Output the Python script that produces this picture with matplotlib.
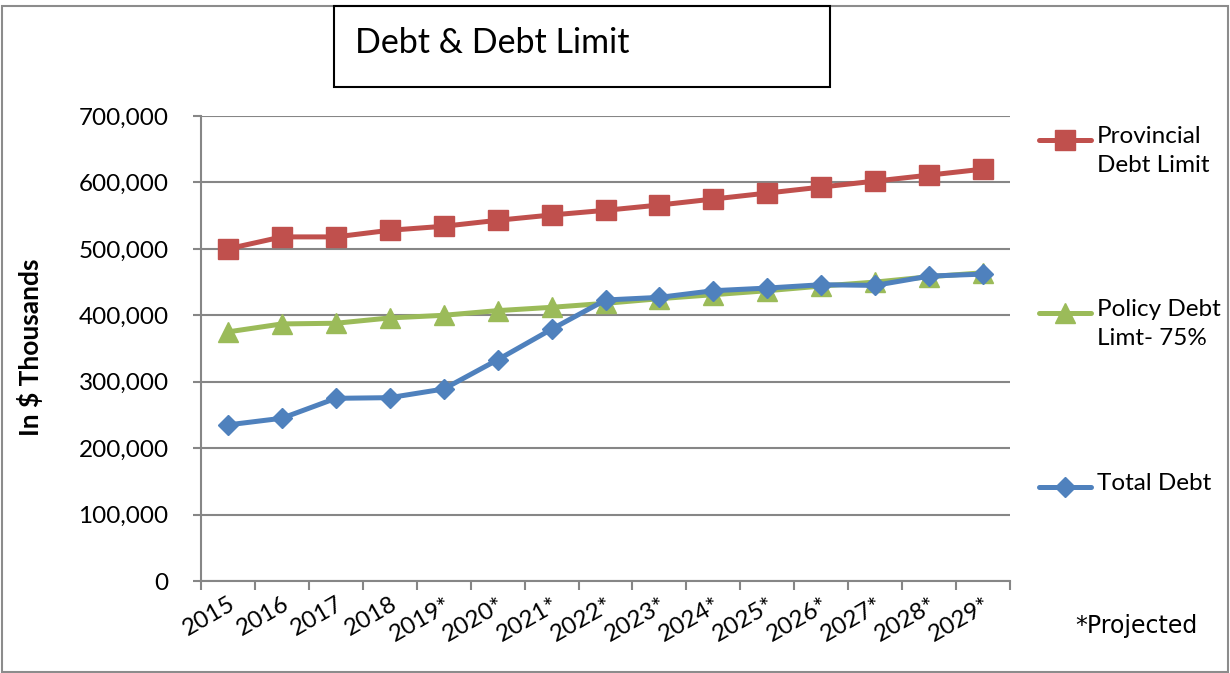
import matplotlib
matplotlib.use("Agg")
import matplotlib.pyplot as plt
from matplotlib.lines import Line2D
from matplotlib.patches import Rectangle
from matplotlib.ticker import FuncFormatter, MultipleLocator

years = ["2015", "2016", "2017", "2018", "2019*", "2020*", "2021*", "2022*",
         "2023*", "2024*", "2025*", "2026*", "2027*", "2028*", "2029*"]
provincial_limit = [500000, 518000, 518000, 528000, 534000, 543000, 551000, 558000,
                    566000, 575000, 584000, 593000, 602000, 611000, 620000]
policy_limit = [375000, 387000, 388000, 396000, 400000, 407000, 412000, 418000,
                425000, 431000, 437000, 444000, 450000, 458000, 464000]
total_debt = [235000, 245000, 275000, 276000, 289000, 333000, 379000, 423000,
              427000, 437000, 441000, 446000, 445000, 459000, 462000]

RED, GREEN, BLUE = "#C0504D", "#9BBB59", "#4F81BD"
GRID = "#868686"
W, H = 1230, 673
LW = 3.6

plt.rcParams["font.family"] = ["Lato", "DejaVu Sans"]

fig = plt.figure(figsize=(W / 100, H / 100), dpi=100)
ax = fig.add_axes([201 / W, 1 - 581 / H, (1010 - 201) / W, (581 - 116) / H])

x = list(range(len(years)))
ax.plot(x, policy_limit, color=GREEN, lw=LW, marker="^", ms=15, zorder=3)
ax.plot(x, total_debt, color=BLUE, lw=LW, marker="D", ms=10.5, zorder=4)
ax.plot(x, provincial_limit, color=RED, lw=LW, marker="s", ms=14, zorder=5)

ax.set_xlim(-0.5, len(years) - 0.5)
ax.set_ylim(0, 700000)
ax.yaxis.set_major_locator(MultipleLocator(100000))
ax.yaxis.set_major_formatter(FuncFormatter(lambda v, p: f"{int(v):,}"))
ax.grid(axis="y", color=GRID, lw=1.5)
ax.set_axisbelow(True)

# category ticks sit between the points
ax.set_xticks([i - 0.5 for i in range(len(years) + 1)], minor=False)
ax.set_xticklabels([])
ax.set_xticks(x, minor=True)
ax.set_xticklabels(years, minor=True, rotation=30, ha="right",
                   rotation_mode="anchor", fontsize=17.5)
ax.tick_params(axis="x", which="minor", length=0, pad=9)
ax.tick_params(axis="x", which="major", length=6.5, color=GRID, width=1.5)
ax.tick_params(axis="y", length=5.8, color=GRID, width=1.5, labelsize=17.5, pad=17.5)

for s in ["top", "right"]:
    ax.spines[s].set_visible(False)
for s in ["left", "bottom"]:
    ax.spines[s].set_color(GRID)
    ax.spines[s].set_linewidth(1.5)

fig.text(30 / W, 1 - 347 / H, "In $ Thousands", rotation=90, fontsize=19,
         fontweight="bold", ha="center", va="center")

# outer border and title box
fig.add_artist(Rectangle((2 / W, 1 / H), 1226 / W, 666 / H,
                         transform=fig.transFigure, fill=False,
                         edgecolor="#8C8C8C", lw=1.5))
fig.add_artist(Rectangle((334 / W, 1 - 87 / H), 496 / W, 81 / H,
                         transform=fig.transFigure, fill=False,
                         edgecolor="black", lw=1.5))
fig.text(355 / W, 1 - 43 / H, "Debt & Debt Limit", fontsize=24.5,
         ha="left", va="center")

# legend
entries = [(RED, "s", 14, 140, "Provincial\nDebt Limit"),
           (GREEN, "^", 15, 313, "Policy Debt\nLimt- 75%"),
           (BLUE, "D", 10.5, 487, "Total Debt")]
for col, mk, ms, yy, lab in entries:
    fig.add_artist(Line2D([1039 / W, 1091 / W], [1 - yy / H] * 2,
                          transform=fig.transFigure, color=col, lw=LW,
                          solid_capstyle="round"))
    fig.add_artist(Line2D([1065 / W], [1 - yy / H], transform=fig.transFigure,
                          color=col, marker=mk, ms=ms, lw=0))
    fig.text(1097 / W, 1 - (yy - 14) / H, lab, fontsize=17.5, ha="left",
             va="top", linespacing=1.45)

fig.text(1075 / W, 1 - 626 / H, "*Projected", fontsize=17,
         family="DejaVu Sans", ha="left", va="center")

fig.savefig("out.png", dpi=100)
